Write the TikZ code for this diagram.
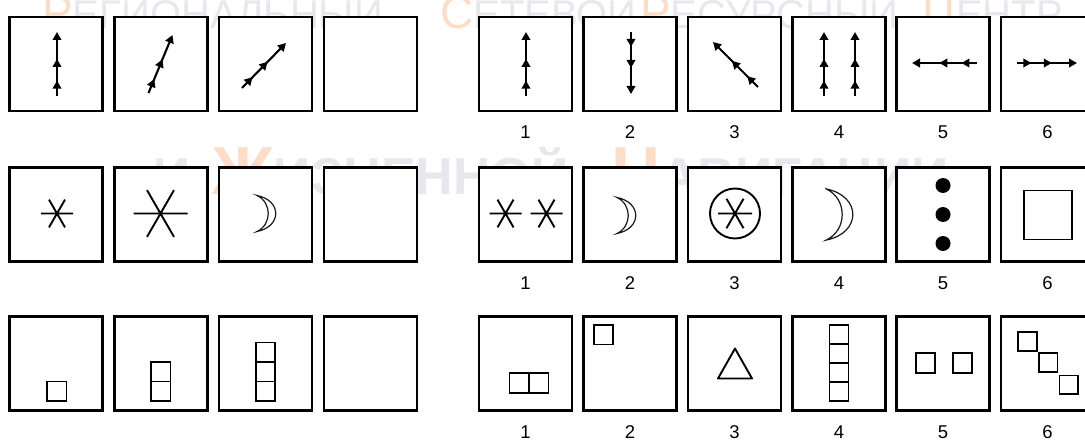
\documentclass[tikz,border=0pt]{standalone}
\usepackage{fontspec}
\setmainfont{Liberation Sans}
\usetikzlibrary{arrows.meta,decorations.markings}
\definecolor{wmg}{RGB}{231,231,237}
\definecolor{wmo}{RGB}{253,220,200}
\tikzset{
  cell/.style={draw=black, fill=white, line width=2.5pt, minimum width=93pt, minimum height=94pt, inner sep=0pt, outer sep=0pt},
  lab/.style={font=\fontsize{18.5}{18.5}\selectfont, inner sep=0pt},
  tipA/.tip={Triangle[length=8pt,width=8.5pt]},
  arr/.style={line width=2.1pt, -tipA, postaction={decorate},
    decoration={markings,
      mark=at position 0.24 with {\arrow{tipA}},
      mark=at position 0.58 with {\arrow{tipA}}}},
  sq/.style={draw, line width=1.9pt},
  ast/.style={line width=1.9pt},
  moonline/.style={draw=black!90, fill=white, line width=1.2pt},
  wm/.style={inner sep=0pt, anchor=base west},
  star/.pic={\draw[ast] (-1,0)--(1,0) (60:1)--(240:1) (120:1)--(300:1);},
  moon/.pic={\path[moonline] (-9,-18) .. controls (16,-13) and (16,13) .. (-9,18) .. controls (6,11) and (6,-11) .. cycle;}
}
\begin{document}
\begin{tikzpicture}[x=1pt,y=-1pt]
\useasboundingbox (0,0) rectangle (1085,441);
\clip (0,0) rectangle (1085,441);
% watermark
\node[wm] (w1a) at (42,29) {\fontsize{46}{46}\selectfont\color{wmo}Р\fontsize{40}{40}\selectfont\color{wmg}ЕГИОНАЛЬНЫЙ};
\node[wm] (w1b) at (440,29) {\fontsize{46}{46}\selectfont\color{wmo}С\fontsize{40}{40}\selectfont\color{wmg}ЕТЕВОЙ};
\node[wm] (w1c) at (640,29) {\fontsize{46}{46}\selectfont\color{wmo}Р\fontsize{40}{40}\selectfont\color{wmg}ЕСУРСНЫЙ};
\node[wm] (w1d) at (922,29) {\fontsize{46}{46}\selectfont\color{wmo}Ц\fontsize{40}{40}\selectfont\color{wmg}ЕНТР};
\node[wm] (w2a) at (153,194) {\bfseries\fontsize{52}{52}\selectfont\color{wmg}И};
\node[wm] (w2b) at (212,194) {\bfseries\fontsize{68}{68}\selectfont\color{wmo}Ж\fontsize{52}{52}\selectfont\color{wmg}ИЗНЕННОЙ};
\node[wm] (w2c) at (611,194) {\bfseries\fontsize{68}{68}\selectfont\color{wmo}Н\fontsize{52}{52}\selectfont\color{wmg}АВИГАЦИИ};
% boxes and labels
\foreach \r/\y in {1/64,2/214.5,3/363.5}{
  \foreach \c/\x in {a/56,b/161,c/265.5,d/370.5}{\node[cell] (L\r\c) at (\x,\y) {};}
  \foreach \c/\x [count=\i] in {a/525.5,b/630,c/734.5,d/839,e/943,f/1047.5}{
    \node[cell] (R\r\c) at (\x,\y) {};
    \node[lab] (N\r\c) at (\x,\y+68.5) {\i};}
}
% row 1
\begin{scope}[shift={(L1a.center)}]\draw[arr] (1,32) -- (1,-32);\end{scope}
\begin{scope}[shift={(L1b.center)}]\draw[arr] (-12.5,29) -- (11.5,-29);\end{scope}
\begin{scope}[shift={(L1c.center)}]\draw[arr] (-23.5,24) -- (20.5,-21);\end{scope}
\begin{scope}[shift={(R1a.center)}]\draw[arr] (0.5,32) -- (0.5,-32);\end{scope}
\begin{scope}[shift={(R1b.center)}]\draw[arr] (1,-32) -- (1,30);\end{scope}
\begin{scope}[shift={(R1c.center)}]\draw[arr] (23.5,23) -- (-21.5,-22);\end{scope}
\begin{scope}[shift={(R1d.center)}]\draw[arr] (-15,32) -- (-15,-32);\draw[arr] (16,32) -- (16,-32);\end{scope}
\begin{scope}[shift={(R1e.center)}]\draw[arr] (34,-1) -- (-31,-1);\end{scope}
\begin{scope}[shift={(R1f.center)}]\draw[arr] (-30.5,-1) -- (29.5,-1);\end{scope}
% row 2
\begin{scope}[shift={(L2a.center)}]\pic[scale=16] at (1,-1) {star};\end{scope}
\begin{scope}[shift={(L2b.center)}]\pic[scale=27] at (-0.5,-1) {star};\end{scope}
\begin{scope}[shift={(L2c.center)}]\pic at (0.5,-1) {moon};\end{scope}
\begin{scope}[shift={(R2a.center)}]\pic[scale=16] at (-20,-1) {star};\pic[scale=16] at (21,-1) {star};\end{scope}
\begin{scope}[shift={(R2b.center)}]\pic at (-4,1) {moon};\end{scope}
\begin{scope}[shift={(R2c.center)}]\draw[line width=1.9pt] (0.5,-1) circle[radius=25];\pic[scale=17] at (0.5,-1) {star};\end{scope}
\begin{scope}[shift={(R2d.center)}]\pic[scale=1.42] at (0,0) {moon};\end{scope}
\begin{scope}[shift={(R2e.center)}]\fill (0,-29) circle[radius=7.5] (0,0) circle[radius=7.5] (0,29) circle[radius=7.5];\end{scope}
\begin{scope}[shift={(R2f.center)}]\draw[sq] (-23.5,-24) rectangle (24.5,25);\end{scope}
% row 3
\begin{scope}[shift={(L3a.center)}]\draw[sq] (-9,18) rectangle (10.5,37.5);\end{scope}
\begin{scope}[shift={(L3b.center)}]\draw[sq] (-10,-1.5) rectangle (9.5,37.5) (-10,18) -- (9.5,18);\end{scope}
\begin{scope}[shift={(L3c.center)}]\draw[sq] (-9.5,-21) rectangle (9.5,37.5) (-9.5,-1.5) -- (9.5,-1.5) (-9.5,18) -- (9.5,18);\end{scope}
\begin{scope}[shift={(R3a.center)}]\draw[sq] (-16,9.5) rectangle (23,29.5) (3.5,9.5) -- (3.5,29.5);\end{scope}
\begin{scope}[shift={(R3b.center)}]\draw[sq] (-36,-38.5) rectangle (-17,-19);\end{scope}
\begin{scope}[shift={(R3c.center)}]\draw[sq, line join=round] (0.5,-15) -- (17.5,15) -- (-16.5,15) -- cycle;\end{scope}
\begin{scope}[shift={(R3d.center)}]\draw[sq] (-9.5,-38.5) rectangle (9.5,37.5) (-9.5,-19.5) -- (9.5,-19.5) (-9.5,-0.5) -- (9.5,-0.5) (-9.5,18.5) -- (9.5,18.5);\end{scope}
\begin{scope}[shift={(R3e.center)}]\draw[sq] (-27,-10.5) rectangle (-8,9.5) (10,-10.5) rectangle (29,9.5);\end{scope}
\begin{scope}[shift={(R3f.center)}]\draw[sq] (-29.5,-31.5) rectangle (-10.5,-12.5) (-8.5,-10.5) rectangle (10,8.5) (12,12) rectangle (30.5,30.5);\end{scope}
\end{tikzpicture}
\end{document}
